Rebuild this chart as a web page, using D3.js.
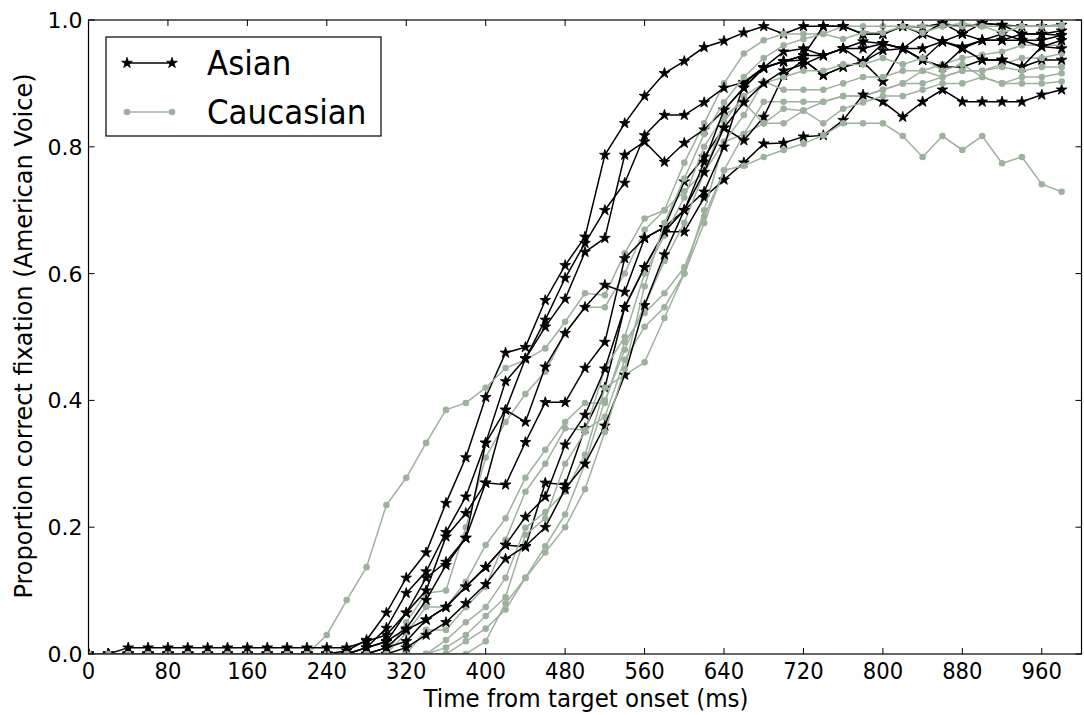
<!DOCTYPE html>
<html lang="en">
<head>
<meta charset="utf-8">
<title>Proportion correct fixation</title>
<style>
  body { margin: 0; background: #fff; }
  svg text { font-family: "DejaVu Sans", sans-serif; fill: #000; }
</style>
</head>
<body>
<svg id="chart" width="1084" height="715"></svg>
<script src="https://d3js.org/d3.v7.min.js"></script>
<script>
// time bins (ms)
const times = [0,20,40,60,80,100,120,140,160,180,200,220,240,260,280,300,320,340,360,380,
  400,420,440,460,480,500,520,540,560,580,600,620,640,660,680,700,720,740,760,780,
  800,820,840,860,880,900,920,940,960,980];

// Asian listeners, one array per subject
const asian1 = [0,0,0,0,0,0,0,0,0,0,0,0,0,0.005,0.022,0.065,0.12,0.16,0.238,0.31,0.405,0.475,0.484,0.558,0.613,0.658,0.787,0.837,0.88,0.916,0.935,0.957,0.967,0.98,0.99,0.978,0.99,0.99,0.99,0.978,0.978,0.99,0.989,0.995,0.989,0.995,0.992,0.99,0.99,0.992];
const asian2 = [0,0,0,0,0,0,0,0,0,0,0,0,0,0,0.01,0.041,0.096,0.13,0.192,0.248,0.333,0.43,0.466,0.527,0.593,0.648,0.70,0.743,0.818,0.85,0.85,0.87,0.893,0.902,0.925,0.934,0.944,0.944,0.955,0.934,0.963,0.955,0.978,0.966,0.978,0.968,0.968,0.978,0.978,0.976];
const asian3 = [0,0,0,0,0,0,0,0,0,0,0,0,0,0,0.01,0.019,0.065,0.10,0.185,0.222,0.27,0.385,0.466,0.516,0.56,0.634,0.656,0.787,0.808,0.776,0.806,0.827,0.858,0.893,0.924,0.935,0.937,0.913,0.926,0.934,0.952,0.955,0.937,0.926,0.926,0.937,0.937,0.926,0.937,0.937];
const asian4 = [0,0,0,0,0,0,0,0,0,0,0,0,0,0,0,0.01,0.038,0.054,0.074,0.106,0.137,0.172,0.169,0.27,0.267,0.356,0.42,0.547,0.61,0.666,0.666,0.72,0.748,0.775,0.805,0.806,0.816,0.818,0.842,0.882,0.871,0.847,0.871,0.89,0.871,0.871,0.871,0.871,0.882,0.89];
const asian5 = [0,0,0,0,0,0,0,0,0,0,0,0,0,0,0.01,0.02,0.04,0.085,0.14,0.183,0.27,0.267,0.334,0.397,0.397,0.451,0.492,0.624,0.656,0.673,0.745,0.784,0.83,0.81,0.847,0.913,0.937,0.913,0.926,0.934,0.903,0.955,0.937,0.926,0.955,0.937,0.937,0.926,0.958,0.955];
const asian6 = [0,0,0.01,0.01,0.01,0.01,0.01,0.01,0.01,0.01,0.01,0.01,0.01,0.01,0.02,0.03,0.065,0.12,0.145,0.183,0.333,0.385,0.366,0.453,0.506,0.547,0.582,0.571,0.656,0.673,0.70,0.729,0.80,0.90,0.925,0.95,0.955,0.944,0.955,0.966,0.963,0.955,0.937,0.966,0.955,0.968,0.968,0.968,0.958,0.968];
const asian7 = [0,0,0,0,0,0,0,0,0,0,0,0,0,0,0,0.01,0.02,0.054,0.074,0.106,0.137,0.172,0.216,0.248,0.33,0.377,0.45,0.547,0.61,0.666,0.70,0.776,0.858,0.893,0.925,0.935,0.944,0.99,0.99,0.978,0.978,0.99,0.978,0.995,0.978,0.995,0.992,0.978,0.978,0.983];
const asian8 = [0,0,0,0,0,0,0,0,0,0,0,0,0,0,0,0,0.01,0.03,0.05,0.08,0.11,0.15,0.17,0.20,0.26,0.30,0.36,0.44,0.55,0.63,0.70,0.76,0.83,0.87,0.90,0.92,0.93,0.944,0.955,0.955,0.963,0.955,0.955,0.966,0.958,0.968,0.978,0.968,0.968,0.976];

// Caucasian listeners
const cauc1 = [0,0,0,0,0,0,0,0,0,0,0,0,0.03,0.085,0.137,0.235,0.278,0.333,0.385,0.396,0.42,0.451,0.464,0.482,0.524,0.569,0.566,0.632,0.687,0.70,0.775,0.837,0.90,0.947,0.968,0.978,0.978,0.978,0.99,0.99,0.99,0.99,0.99,0.99,0.995,0.99,0.99,0.99,0.99,0.992];
const cauc2 = [0,0,0,0,0,0,0,0,0,0,0,0,0,0,0,0,0.05,0.096,0.10,0.20,0.31,0.366,0.41,0.445,0.506,0.547,0.547,0.60,0.669,0.70,0.73,0.76,0.808,0.82,0.837,0.837,0.857,0.871,0.88,0.88,0.89,0.90,0.92,0.93,0.94,0.945,0.95,0.96,0.96,0.96];
const cauc3 = [0,0,0,0,0,0,0,0,0,0,0,0,0,0,0,0,0.033,0.074,0.074,0.114,0.172,0.214,0.278,0.322,0.366,0.396,0.396,0.492,0.538,0.569,0.61,0.69,0.763,0.82,0.871,0.871,0.871,0.871,0.88,0.88,0.89,0.90,0.90,0.91,0.92,0.92,0.93,0.94,0.94,0.947];
const cauc4 = [0,0,0,0,0,0,0,0,0,0,0,0,0,0,0,0,0,0.038,0.038,0.074,0.106,0.18,0.256,0.30,0.356,0.353,0.374,0.464,0.516,0.547,0.60,0.68,0.763,0.77,0.784,0.795,0.805,0.818,0.837,0.837,0.837,0.817,0.784,0.817,0.795,0.817,0.774,0.784,0.741,0.729];
const cauc5 = [0,0,0,0,0,0,0,0,0,0,0,0,0,0,0,0,0,0,0.022,0.05,0.074,0.12,0.199,0.224,0.256,0.314,0.42,0.44,0.46,0.53,0.60,0.70,0.808,0.85,0.903,0.89,0.89,0.89,0.90,0.91,0.91,0.92,0.92,0.91,0.92,0.92,0.926,0.92,0.926,0.926];
const cauc6 = [0,0,0,0,0,0,0,0,0,0,0,0,0,0,0,0,0,0,0.01,0.03,0.06,0.09,0.188,0.214,0.30,0.35,0.45,0.50,0.60,0.66,0.72,0.80,0.85,0.87,0.837,0.86,0.857,0.837,0.86,0.87,0.88,0.88,0.89,0.90,0.90,0.91,0.90,0.91,0.91,0.916];
const cauc7 = [0,0,0,0,0,0,0,0,0,0,0,0,0,0,0,0,0,0,0,0.02,0.04,0.07,0.12,0.17,0.22,0.30,0.40,0.48,0.55,0.62,0.68,0.76,0.84,0.88,0.90,0.91,0.92,0.92,0.93,0.93,0.94,0.93,0.94,0.92,0.93,0.91,0.90,0.90,0.90,0.903];
const cauc8 = [0,0,0,0,0,0,0,0,0,0,0,0,0,0,0,0,0,0,0,0,0.02,0.08,0.12,0.16,0.20,0.26,0.35,0.45,0.58,0.68,0.75,0.82,0.87,0.91,0.94,0.96,0.97,0.978,0.97,0.98,0.98,0.99,0.98,0.99,0.99,0.99,0.98,0.99,0.99,0.99];

const asianSeries = [asian1, asian2, asian3, asian4, asian5, asian6, asian7, asian8];
const caucSeries = [cauc1, cauc2, cauc3, cauc4, cauc5, cauc6, cauc7, cauc8];

const xTicks = [0,80,160,240,320,400,480,560,640,720,800,880,960];
const yTicks = [0,0.2,0.4,0.6,0.8,1.0];

const green = '#9db29d';

const svg = d3.select('#chart');

const plotLeft = 88.5, plotRight = 1081.5, plotTop = 20, plotBottom = 654;

const x = d3.scaleLinear().domain([0, 1000]).range([plotLeft, plotRight]);
const y = d3.scaleLinear().domain([0, 1]).range([plotBottom, plotTop]);

svg.append('clipPath').attr('id', 'plot-clip')
  .append('rect')
  .attr('x', plotLeft).attr('y', plotTop)
  .attr('width', plotRight - plotLeft).attr('height', plotBottom - plotTop);

const line = d3.line()
  .x((d, i) => x(times[i]))
  .y(d => y(d));

const star = d3.symbol().type(d3.symbolStar).size(36);

const plot = svg.append('g').attr('clip-path', 'url(#plot-clip)');

// interleave subjects so that neither group sits fully on top
for (let s = 0; s < 8; s++) {
  const a = asianSeries[s];
  const ga = plot.append('g');
  ga.append('path')
    .attr('d', line(a))
    .attr('fill', 'none')
    .attr('stroke', '#000')
    .attr('stroke-width', 1.5);
  ga.selectAll('path.mk')
    .data(a)
    .join('path')
    .attr('class', 'mk')
    .attr('d', star)
    .attr('transform', (d, i) => `translate(${x(times[i])},${y(d)})`)
    .attr('fill', '#000')
    .attr('stroke', '#000')
    .attr('stroke-width', 0.8);

  const c = caucSeries[s];
  const gc = plot.append('g');
  gc.append('path')
    .attr('d', line(c))
    .attr('fill', 'none')
    .attr('stroke', green)
    .attr('stroke-width', 1.5);
  gc.selectAll('circle')
    .data(c)
    .join('circle')
    .attr('cx', (d, i) => x(times[i]))
    .attr('cy', d => y(d))
    .attr('r', 3.3)
    .attr('fill', green);
}

// frame
svg.append('rect')
  .attr('x', plotLeft).attr('y', plotTop)
  .attr('width', plotRight - plotLeft).attr('height', plotBottom - plotTop)
  .attr('fill', 'none')
  .attr('stroke', '#000')
  .attr('stroke-width', 1.2);

// ticks, pointing inward on all four sides
const tickLen = 6;
xTicks.forEach(t => {
  svg.append('line').attr('x1', x(t)).attr('x2', x(t))
    .attr('y1', plotBottom).attr('y2', plotBottom - tickLen).attr('stroke', '#000');
  svg.append('line').attr('x1', x(t)).attr('x2', x(t))
    .attr('y1', plotTop).attr('y2', plotTop + tickLen).attr('stroke', '#000');
  svg.append('text')
    .attr('transform', `translate(${x(t)},${plotBottom + 25}) scale(0.92,1)`)
    .attr('text-anchor', 'middle')
    .attr('font-size', 23)
    .text(t);
});

yTicks.forEach(v => {
  svg.append('line').attr('x1', plotLeft).attr('x2', plotLeft + tickLen)
    .attr('y1', y(v)).attr('y2', y(v)).attr('stroke', '#000');
  svg.append('line').attr('x1', plotRight).attr('x2', plotRight - tickLen)
    .attr('y1', y(v)).attr('y2', y(v)).attr('stroke', '#000');
  svg.append('text')
    .attr('x', plotLeft - 6)
    .attr('y', y(v) + 8)
    .attr('text-anchor', 'end')
    .attr('font-size', 22)
    .text(v.toFixed(1));
});

// axis titles
svg.append('text')
  .attr('transform', `translate(586,707) scale(0.92,1)`)
  .attr('text-anchor', 'middle')
  .attr('font-size', 25)
  .text('Time from target onset (ms)');

svg.append('text')
  .attr('transform', 'translate(32,336) rotate(-90)')
  .attr('text-anchor', 'middle')
  .attr('font-size', 24)
  .text('Proportion correct fixation (American Voice)');

// legend
const legend = svg.append('g');
legend.append('rect')
  .attr('x', 106).attr('y', 37)
  .attr('width', 275).attr('height', 99)
  .attr('fill', '#fff')
  .attr('stroke', '#000')
  .attr('stroke-width', 1.2);

const legendItems = [
  { label: 'Asian', color: '#000', marker: 'star', y: 63 },
  { label: 'Caucasian', color: green, marker: 'dot', y: 112 }
];

legendItems.forEach(it => {
  legend.append('line')
    .attr('x1', 127).attr('x2', 172)
    .attr('y1', it.y).attr('y2', it.y)
    .attr('stroke', it.color)
    .attr('stroke-width', 1.5);
  [127, 172].forEach(px => {
    if (it.marker === 'star') {
      legend.append('path')
        .attr('d', star)
        .attr('transform', `translate(${px},${it.y})`)
        .attr('fill', '#000').attr('stroke', '#000').attr('stroke-width', 0.8);
    } else {
      legend.append('circle')
        .attr('cx', px).attr('cy', it.y).attr('r', 3.3)
        .attr('fill', it.color);
    }
  });
  legend.append('text')
    .attr('transform', `translate(207,${it.y + 12}) scale(0.91,1)`)
    .attr('font-size', 34)
    .text(it.label);
});
</script>
</body>
</html>
